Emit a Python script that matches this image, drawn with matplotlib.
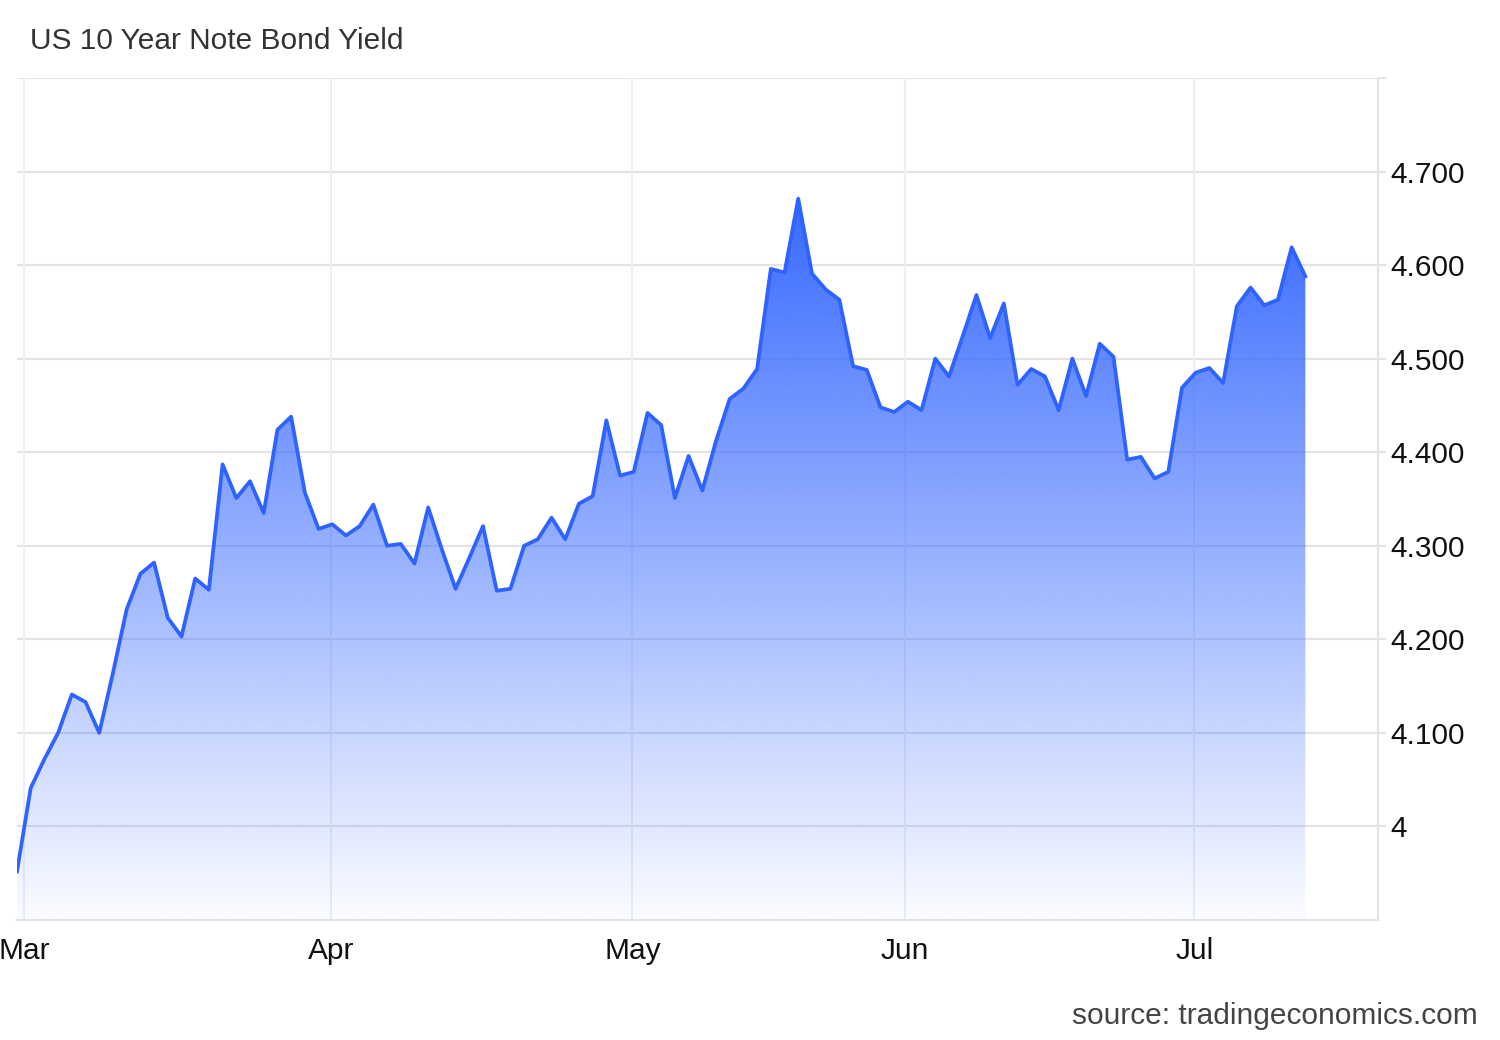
import numpy as np
import matplotlib
matplotlib.use("Agg")
from matplotlib import pyplot as plt

plt.rcParams['font.family'] = ['Liberation Sans', 'DejaVu Sans']

# daily yield readings, Mar -> mid Jul
yields = [3.952, 4.041, 4.072, 4.100, 4.141, 4.133, 4.100, 4.164, 4.232, 4.270,
          4.282, 4.223, 4.203, 4.265, 4.253, 4.387, 4.351, 4.369, 4.335, 4.424,
          4.438, 4.357, 4.318, 4.323, 4.311, 4.321, 4.344, 4.300, 4.302, 4.281,
          4.341, 4.296, 4.254, 4.287, 4.321, 4.252, 4.254, 4.300, 4.307, 4.330,
          4.307, 4.345, 4.353, 4.434, 4.375, 4.379, 4.442, 4.429, 4.351, 4.396,
          4.359, 4.412, 4.457, 4.468, 4.489, 4.596, 4.592, 4.671, 4.591, 4.574,
          4.563, 4.492, 4.488, 4.448, 4.443, 4.454, 4.445, 4.500, 4.481, 4.524,
          4.568, 4.522, 4.559, 4.472, 4.489, 4.481, 4.445, 4.500, 4.460, 4.516,
          4.502, 4.392, 4.395, 4.372, 4.379, 4.469, 4.485, 4.490, 4.474, 4.556,
          4.576, 4.557, 4.563, 4.619, 4.588]

month_labels = ['Mar', 'Apr', 'May', 'Jun', 'Jul']
month_pos = [0.5, 22.9, 44.9, 64.8, 85.9]   # position of month start on the day index

ytick_vals = [4.0, 4.1, 4.2, 4.3, 4.4, 4.5, 4.6, 4.7, 4.8]
ytick_labels = ['4', '4.100', '4.200', '4.300', '4.400', '4.500', '4.600', '4.700', '']

ymin, ymax = 3.9, 4.8
blue = '#3366ff'
line_blue = '#2e63ff'
grid_gray = '#e3e3e3'

x = np.arange(len(yields))

fig = plt.figure(figsize=(15, 10.4), dpi=100)
ax = fig.add_axes([17/1500, 1-920/1040, (1378-17)/1500, (920-78)/1040])

# gradient fill under the line
top = max(yields)
grad = np.zeros((256, 1, 4))
rgb = matplotlib.colors.to_rgb(blue)
grad[:, 0, 0] = rgb[0]
grad[:, 0, 1] = rgb[1]
grad[:, 0, 2] = rgb[2]
grad[:, 0, 3] = np.linspace(0.98, 0.02, 256)
poly = ax.fill_between(x, yields, ymin, facecolor='none', edgecolor='none')
im = ax.imshow(grad, extent=[x[0], x[-1], ymin, top], aspect='auto',
               origin='upper', zorder=2, interpolation='bilinear')
im.set_clip_path(poly.get_paths()[0], ax.transData)

ax.plot(x, yields, color=line_blue, lw=2.7, zorder=3)

ax.set_xlim(0, 99.3)
ax.set_ylim(ymin, ymax)

# grid
for v in ytick_vals:
    ax.axhline(v, color=grid_gray, lw=1.5, zorder=0)
for p in month_pos:
    ax.axvline(p, color='#eaeefb', lw=1.5, zorder=0)

ax.set_xticks(month_pos)
ax.set_xticklabels(month_labels)
ax.set_yticks(ytick_vals)
ax.set_yticklabels(ytick_labels)
ax.yaxis.tick_right()
ax.tick_params(axis='y', length=6, width=1.5, color=grid_gray, pad=3,
               labelsize=21.5, labelcolor='#111111')
ax.tick_params(axis='x', length=0, pad=12, labelsize=21.5, labelcolor='#111111')

for s in ['left', 'top']:
    ax.spines[s].set_visible(False)
ax.spines['right'].set_color(grid_gray)
ax.spines['right'].set_linewidth(1.5)
ax.spines['bottom'].set_color(grid_gray)
ax.spines['bottom'].set_linewidth(1.5)

fig.text(30/1500, 1-41/1040, 'US 10 Year Note Bond Yield', ha='left', va='center',
         fontsize=21.5, color='#333333')
fig.text(1478/1500, 1-1016/1040, 'source: tradingeconomics.com', ha='right', va='center',
         fontsize=21.5, color='#444444')

fig.savefig('out.png', dpi=100)
